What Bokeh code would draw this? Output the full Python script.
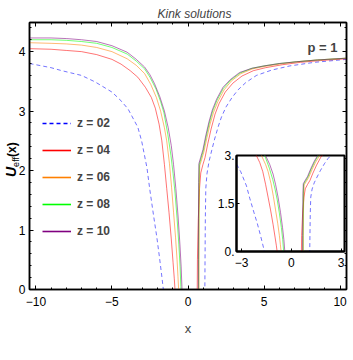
import math
from bokeh.plotting import figure
from bokeh.models import (ColumnDataSource, Range1d, LinearAxis, FixedTicker,
                          Legend, LegendItem, Label, Div)
from bokeh.layouts import column
from bokeh.embed import file_html
from bokeh.resources import INLINE

NAN = float("nan")

series_names = ["z = 02", "z = 04", "z = 06", "z = 08", "z = 10"]
series_colors = ["#0000ff", "#ff0000", "#ff8000", "#00ff00", "#800080"]
series_dash = ["4 3", "solid", "solid", "solid", "solid"]

# ---- left branches (x < 0) ----
z02_left_x = [-10.42, -10, -9, -8.3, -7, -6.1, -5, -4.5, -3.95, -3.3, -3.05, -2.7, -2.5, -2.25, -2.05, -1.88, -1.74, -1.62, -1.58]
z02_left_y = [3.80, 3.78, 3.73, 3.68, 3.60, 3.49, 3.32, 3.20, 3.04, 2.73, 2.50, 2.05, 1.66, 1.22, 0.88, 0.55, 0.26, 0.0, -0.3]
z04_left_x = [-10.42, -9, -8, -7, -6, -5, -4.4, -3.8, -3.3, -2.8, -2.41, -2.15, -1.9, -1.72, -1.55, -1.4, -1.25, -1.1, -0.98, -0.9, -0.86, -0.83]
z04_left_y = [4.05, 4.04, 4.02, 4.00, 3.95, 3.87, 3.79, 3.68, 3.57, 3.40, 3.23, 3.05, 2.78, 2.50, 2.10, 1.70, 1.30, 0.85, 0.45, 0.18, 0.02, -0.3]
z06_left_x = [-10.42, -9, -8, -7, -6, -5, -4, -3.4, -2.85, -2.45, -2.08, -1.8, -1.55, -1.4, -1.22, -1.08, -0.95, -0.82, -0.72, -0.66, -0.62, -0.59]
z06_left_y = [4.15, 4.14, 4.13, 4.11, 4.07, 4.00, 3.88, 3.77, 3.63, 3.45, 3.23, 3.00, 2.72, 2.50, 2.12, 1.72, 1.30, 0.88, 0.50, 0.22, 0.02, -0.3]
z08_left_x = [-10.42, -9, -8, -7, -6, -5, -4, -3.4, -2.85, -2.5, -2.1, -1.8, -1.58, -1.32, -1.12, -0.98, -0.85, -0.72, -0.6, -0.52, -0.47, -0.44]
z08_left_y = [4.20, 4.20, 4.19, 4.17, 4.14, 4.07, 3.96, 3.84, 3.71, 3.57, 3.37, 3.16, 2.97, 2.60, 2.25, 1.95, 1.62, 1.20, 0.75, 0.38, 0.05, -0.3]
z10_left_x = [-10.42, -9, -8, -7, -6, -5, -4, -3.4, -2.85, -2.5, -2.2, -1.85, -1.55, -1.3, -1.1, -0.95, -0.8, -0.65, -0.53, -0.45, -0.4, -0.37]
z10_left_y = [4.23, 4.23, 4.22, 4.20, 4.17, 4.10, 3.99, 3.87, 3.74, 3.61, 3.46, 3.24, 3.00, 2.72, 2.42, 2.10, 1.70, 1.22, 0.75, 0.38, 0.05, -0.3]

# ---- right branches (x > 0) ----
z02_right_x = [1.10, 1.12, 1.14, 1.17, 1.25, 1.38, 1.55, 1.75, 2.0, 2.2, 2.5, 2.9, 3.3, 3.8, 4.5, 5.5, 6.7, 8.3, 10.42]
z02_right_y = [-0.3, 0.5, 1.2, 1.7, 1.95, 2.15, 2.33, 2.53, 2.75, 2.90, 3.07, 3.23, 3.36, 3.48, 3.60, 3.69, 3.76, 3.82, 3.87]
z04_right_x = [0.60, 0.62, 0.68, 0.76, 0.84, 0.98, 1.12, 1.3, 1.52, 1.78, 2.05, 2.45, 2.95, 3.55, 4.3, 5.1, 6.2, 7.4, 8.7, 10.42]
z04_right_y = [-0.3, 0.5, 1.2, 1.7, 1.96, 2.10, 2.22, 2.45, 2.70, 2.95, 3.13, 3.32, 3.47, 3.59, 3.68, 3.73, 3.78, 3.82, 3.85, 3.88]
z06_right_x = [0.72, 0.72, 0.73, 0.75, 0.77, 0.89, 1.04, 1.25, 1.45, 1.68, 1.96, 2.38, 2.86, 3.48, 4.25, 5.0, 6.0, 7.15, 8.5, 10.42]
z06_right_y = [-0.3, 0.5, 1.2, 1.8, 2.08, 2.18, 2.31, 2.56, 2.78, 2.98, 3.16, 3.36, 3.51, 3.63, 3.71, 3.75, 3.79, 3.83, 3.86, 3.89]
z08_right_x = [0.70, 0.70, 0.71, 0.72, 0.74, 0.85, 1.0, 1.2, 1.4, 1.62, 1.9, 2.32, 2.8, 3.42, 4.2, 5.0, 6.0, 7.15, 8.5, 10.42]
z08_right_y = [-0.3, 0.5, 1.2, 1.8, 2.10, 2.20, 2.33, 2.58, 2.80, 3.00, 3.18, 3.38, 3.52, 3.64, 3.72, 3.76, 3.80, 3.83, 3.86, 3.89]
z10_right_x = [0.68, 0.68, 0.69, 0.70, 0.72, 0.83, 0.98, 1.18, 1.38, 1.6, 1.88, 2.3, 2.78, 3.4, 4.2, 5.0, 6.0, 7.15, 8.5, 10.42]
z10_right_y = [-0.3, 0.5, 1.2, 1.8, 2.12, 2.22, 2.35, 2.60, 2.82, 3.02, 3.20, 3.40, 3.53, 3.65, 3.72, 3.76, 3.80, 3.83, 3.86, 3.89]

left_x = [z02_left_x, z04_left_x, z06_left_x, z08_left_x, z10_left_x]
left_y = [z02_left_y, z04_left_y, z06_left_y, z08_left_y, z10_left_y]
right_x = [z02_right_x, z04_right_x, z06_right_x, z08_right_x, z10_right_x]
right_y = [z02_right_y, z04_right_y, z06_right_y, z08_right_y, z10_right_y]

# ticks
x_ticks = [-10, -5, 0, 5, 10]
x_tick_labels = ["\u221210", "\u22125", "0", "5", "10"]
y_ticks = [0, 1, 2, 3, 4]
y_tick_labels = ["0", "1", "2", "3", "4"]
inset_x_ticks = [-3, 0, 3]
inset_x_tick_labels = ["\u22123", "0", "3"]
inset_y_ticks = [0, 1.5, 3]
inset_y_tick_labels = ["0.", "1.5", "3."]

FONT = "Liberation Sans"

# ---- main plot ----
p = figure(width=352, height=358, x_range=Range1d(-10.42, 10.42), y_range=Range1d(0, 4.49),
           output_backend="svg", toolbar_location=None,
           min_border_left=29, min_border_right=6, min_border_top=22, min_border_bottom=69)
p.grid.visible = False
p.outline_line_color = "black"
p.outline_line_width = 1.5
p.title.text = "Kink solutions"
p.title.align = "left"
p.title.offset = 128
p.title.standoff = 4
p.title.text_font = FONT
p.title.text_font_style = "italic"
p.title.text_font_size = "12px"


def style_axis(ax, ticks, minor, labels, show):
    ax.ticker = FixedTicker(ticks=ticks, minor_ticks=minor)
    ax.major_label_overrides = {t: l for t, l in zip(ticks, labels)}
    ax.major_tick_in = 4
    ax.major_tick_out = 0
    ax.minor_tick_in = 2
    ax.minor_tick_out = 0
    ax.axis_line_width = 1.5
    ax.major_tick_line_width = 1
    ax.minor_tick_line_width = 1
    ax.major_label_text_font = FONT
    ax.major_label_text_font_size = "12px"
    if show:
        ax.major_label_text_color = "black"
    else:
        ax.major_label_text_color = None
        ax.major_label_standoff = 0


x_minor = [v for v in range(-10, 11) if v not in x_ticks]
y_minor = [round(0.2 * k, 1) for k in range(0, 23) if k % 5 != 0]

style_axis(p.xaxis[0], x_ticks, x_minor, x_tick_labels, True)
style_axis(p.yaxis[0], y_ticks, y_minor, y_tick_labels, True)
p.xaxis[0].major_label_standoff = 7
p.yaxis[0].major_label_standoff = 4
p.xaxis[0].axis_label = "x"
p.xaxis[0].axis_label_text_font = FONT
p.xaxis[0].axis_label_text_font_style = "normal"
p.xaxis[0].axis_label_text_font_size = "13px"
p.xaxis[0].axis_label_standoff = 12

top_ax = LinearAxis()
right_ax = LinearAxis()
style_axis(top_ax, x_ticks, x_minor, x_tick_labels, False)
style_axis(right_ax, y_ticks, y_minor, y_tick_labels, False)
p.add_layout(top_ax, "above")
p.add_layout(right_ax, "right")

# ---- inset ----
ins = figure(width=143, height=128, x_range=Range1d(-3.3, 3.2), y_range=Range1d(0, 3),
             output_backend="svg", toolbar_location=None,
             min_border_left=22, min_border_right=6, min_border_top=7, min_border_bottom=25,
             border_fill_color=None, background_fill_color="white")
ins.grid.visible = False
ins.outline_line_color = "black"
ins.outline_line_width = 2
style_axis(ins.xaxis[0], inset_x_ticks, [], inset_x_tick_labels, True)
style_axis(ins.yaxis[0], inset_y_ticks, [], inset_y_tick_labels, True)
ins.xaxis[0].major_tick_in = 3
ins.yaxis[0].major_tick_in = 3
ins.xaxis[0].axis_line_width = 2
ins.yaxis[0].axis_line_width = 2
ins.xaxis[0].major_label_standoff = 6
ins.yaxis[0].major_label_standoff = 2
ins.margin = (-210, 0, 0, 207)

# ---- rotated y-axis label  U_eff(x) ----
ylabel_html = (
    '<span style="font-family:\'Liberation Sans\';font-weight:bold;font-style:italic;font-size:14px">U</span>'
    '<span style="font-family:\'Liberation Sans\';font-size:9px;position:relative;top:3px">eff</span>'
    '<span style="font-family:\'Liberation Sans\';font-weight:bold;font-size:12px">(x)</span>'
)
ylab = Div(text=ylabel_html, width=50, height=16,
           styles={"transform": "rotate(-90deg)", "white-space": "nowrap",
                   "line-height": "16px", "color": "black"})
ylab.margin = (-132, 0, 0, -14)

legend_items = []
for i in range(5):
    xs = left_x[i] + [NAN] + right_x[i]
    ys = left_y[i] + [NAN] + right_y[i]
    src = ColumnDataSource(data=dict(x=xs, y=ys))
    p.line("x", "y", source=src, line_color=series_colors[i], line_width=1,
           line_alpha=0.55, line_dash=series_dash[i])
    ins.line("x", "y", source=src, line_color=series_colors[i], line_width=1,
             line_alpha=0.55, line_dash=series_dash[i])
    proxy = p.line("x", "y", source=src, line_color=series_colors[i], line_width=1.6,
                   line_dash=series_dash[i], visible=False)
    legend_items.append(LegendItem(label=series_names[i], renderers=[proxy]))

legend = Legend(items=legend_items, location=(13, 48), orientation="vertical",
                padding=0, margin=0, spacing=7, glyph_width=29, glyph_height=20,
                label_height=20, label_standoff=6, border_line_color=None,
                background_fill_alpha=0, label_text_font=FONT,
                label_text_font_style="bold", label_text_font_size="12px")
p.add_layout(legend)

p.add_layout(Label(x=308, y=242, x_units="screen", y_units="screen", text="p = 1",
                   text_align="right", text_baseline="alphabetic", text_font=FONT,
                   text_font_style="bold", text_font_size="13px"))

layout = column(p, ins, ylab)
open("out.html", "w").write(file_html(layout, INLINE))
